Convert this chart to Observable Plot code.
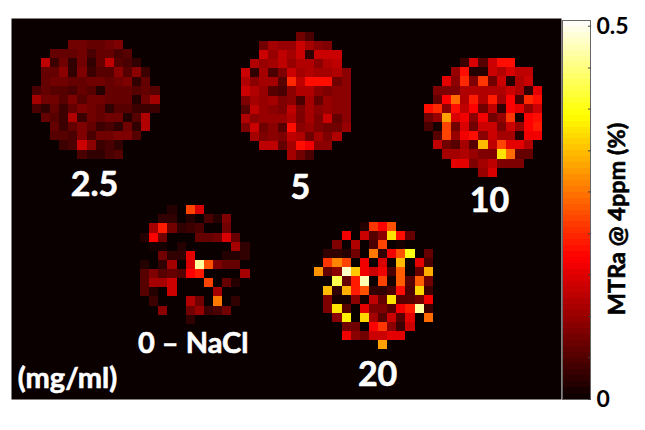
<!DOCTYPE html>
<html><head><meta charset="utf-8">
<script src="https://cdn.jsdelivr.net/npm/d3@7"></script>
<script src="https://cdn.jsdelivr.net/npm/@observablehq/plot@0.6"></script>
<style>html,body{margin:0;padding:0;background:#fff}#c{position:relative;width:645px;height:430px}#c svg{position:absolute;left:0;top:0;background:transparent}</style>
</head><body><div id="c"></div>
<script>
// MTRa per voxel, in hundredths of a percent (0 = outside phantom)
const conc2_5 = [
[0,0,0,0,8,8,7,7,8,9,0,0,0,0],
[0,0,7,7,7,8,5,7,7,5,6,0,0,0],
[0,14,4,8,3,8,3,7,14,6,5,3,0,0],
[0,7,7,10,3,9,4,6,6,10,6,10,4,0],
[0,7,8,8,7,7,8,8,7,8,9,3,7,0],
[5,7,6,6,5,7,6,2,7,7,7,6,7,6],
[12,8,8,6,9,6,8,8,7,7,7,2,8,12],
[5,3,7,4,7,9,8,7,3,6,6,4,4,4],
[0,7,6,4,13,4,8,7,8,8,2,6,13,0],
[0,0,7,4,7,9,7,4,5,3,8,3,13,0],
[0,0,6,6,5,9,5,8,8,9,9,6,0,0],
[0,0,0,4,5,15,10,4,5,3,0,0,0,0],
[0,0,0,0,0,5,3,3,5,6,0,0,0,0]];
const conc5 = [
[0,0,0,0,0,0,8,5,0,0,0,0],
[0,0,8,12,11,11,15,12,10,9,0,0],
[0,0,15,11,14,12,15,3,15,15,15,0],
[0,13,11,12,14,11,13,13,10,13,14,0],
[15,3,12,5,9,15,12,13,12,12,13,10],
[13,10,12,12,6,22,14,20,20,20,8,10],
[15,13,11,6,5,10,13,13,10,9,10,10],
[9,12,11,12,9,10,5,12,7,11,10,10],
[6,14,11,10,9,14,9,12,10,11,10,10],
[13,10,11,11,11,13,9,12,9,15,7,10],
[9,15,8,10,6,20,10,11,9,8,8,11],
[0,12,9,10,9,14,13,8,12,9,13,0],
[0,0,14,14,7,12,20,18,10,10,0,0],
[0,0,0,0,0,12,8,5,0,0,0,0]];
const conc10 = [
[0,0,0,0,4,16,6,15,20,20,0,0,0],
[0,0,0,11,20,2,2,15,13,16,14,14,0],
[0,0,17,10,22,9,23,8,15,2,13,15,0],
[0,9,9,9,13,13,13,13,13,15,13,3,17],
[0,7,19,27,13,21,13,21,12,19,5,22,20],
[20,22,10,20,14,19,8,14,3,19,17,11,15],
[8,11,31,16,18,10,18,8,11,23,1,19,20],
[5,1,24,8,16,8,15,15,9,15,11,19,21],
[0,6,24,11,18,20,10,15,12,12,2,18,18],
[0,14,8,6,12,6,33,14,24,17,17,13,0],
[0,0,12,12,13,11,9,9,36,27,7,7,0],
[0,0,0,17,17,9,12,14,9,9,9,0,0],
[0,0,0,0,0,0,11,16,0,0,0,0,0]];
const conc0NaCl = [
[0,0,0,2,0,24,16,0,0,0,0,0],
[0,0,3,3,0,2,0,5,2,9,0,0],
[0,12,21,8,3,4,5,0,0,8,0,0],
[2,19,8,0,0,0,7,7,8,16,7,0],
[0,1,1,0,2,0,0,0,0,0,12,3],
[0,0,8,3,3,17,0,0,0,2,2,3],
[2,0,3,12,0,16,46,25,9,7,7,0],
[6,9,6,7,6,19,21,0,0,0,0,12],
[6,12,12,15,0,0,0,24,0,7,2,0],
[6,2,0,15,0,0,0,0,12,0,0,0],
[0,4,0,0,0,13,8,0,28,0,3,0],
[0,0,10,0,0,8,11,4,5,8,0,0],
[0,0,0,0,0,3,0,0,0,0,0,0]];
const conc20 = [
[0,0,0,0,0,2,23,19,25,0,0,0,0],
[0,0,0,18,0,15,6,10,36,20,7,0,0],
[0,0,9,0,13,0,5,24,0,1,0,0,0],
[0,3,3,2,8,0,28,3,18,25,39,0,7],
[0,23,29,24,0,18,0,16,0,33,0,17,5],
[30,7,10,48,34,18,15,18,5,26,0,7,32],
[0,0,42,7,21,47,0,24,1,26,6,26,8],
[0,33,3,32,21,25,3,3,5,20,5,35,4],
[0,9,1,1,10,1,14,7,36,6,6,8,18],
[0,9,36,6,0,17,9,9,6,18,21,46,4],
[0,0,10,37,0,35,12,6,15,6,17,0,27],
[0,0,0,8,8,0,19,23,10,4,15,0,0],
[0,0,0,18,10,8,15,15,17,17,0,0,0],
[0,0,0,0,0,0,0,31,0,0,0,0,0]];
const sampleLabels = ["2.5","5","10","0 – NaCl","20"];
const unitLabel = "(mg/ml)";
const barTicks = [0,0.056,0.111,0.167,0.222,0.278,0.333,0.389,0.444,0.5];
const barTitle = "MTRa @ 4ppm (%)";

// Montage layout, in voxel units of the image
const layout = [[2.27,2.41],[25.2,1.5],[45.2,4.4],[14.13,20.5],[33.2,22.3]];
const labelAt = [[9.09,18.3],[31.65,18.6],[52.35,20.0],[19.9,35.6],[40.1,39.1]];
const blobs = [conc2_5,conc5,conc10,conc0NaCl,conc20];

const top_ = 0.5076;
const hot = {type:"linear",domain:[0,top_*3/8,top_*6/8,top_],range:["#0a0000","#ff0000","#ffff00","#ffffff"],clamp:true};

const cells = blobs.flatMap((m,b)=>m.flatMap((row,r)=>row.map((v,c)=>({
  x1:layout[b][0]+c,x2:layout[b][0]+c+1,y1:layout[b][1]+r,y2:layout[b][1]+r+1,v:v/100}))))
  .filter(d=>d.v>0);
const labels = sampleLabels.map((t,i)=>({t,x:labelAt[i][0],y:labelAt[i][1]}));

const font = "Lato, 'Open Sans', sans-serif";
const heavy = {fontWeight:"bold",fontFamily:font,strokeWidth:0.6};
const main = Plot.plot({
  width:645,height:430,marginLeft:11,marginRight:84,marginTop:18,marginBottom:31,
  style:{background:"transparent",fontFamily:font},
  x:{domain:[0,60.24],axis:null},
  y:{domain:[41.73,0],axis:null},
  color:hot,
  marks:[
    Plot.frame({fill:"#0a0000",stroke:"none"}),
    Plot.rect(cells,{x1:"x1",x2:"x2",y1:"y1",y2:"y2",fill:"v",shapeRendering:"crispEdges"}),
    Plot.text(labels,{x:"x",y:"y",text:"t",fill:"white",stroke:"white",fontSize:d=>d.t.length>3?29:34,...heavy}),
    Plot.text([unitLabel],{x:[6.13],y:[39.4],fill:"white",stroke:"white",fontSize:29,...heavy})
  ]
});

const steps = d3.range(64).map(i=>({y1:i/64*top_,y2:(i+1)/64*top_,v:(i+.5)/64*top_}));
const bar = Plot.plot({
  width:645,height:430,marginLeft:562,marginRight:55,marginTop:20,marginBottom:31,
  style:{background:"transparent",fontFamily:font},
  x:{domain:[0,1],axis:null},
  y:{domain:[0,top_],axis:null},
  color:hot,
  marks:[
    Plot.rect(steps,{x1:0,x2:1,y1:"y1",y2:"y2",fill:"v",shapeRendering:"crispEdges"}),
    Plot.frame({stroke:"#666",strokeWidth:1}),
    Plot.axisY({anchor:"right",ticks:barTicks,tickSize:-3,stroke:"#444",label:null,tickPadding:9,
      tickFormat:d=>d===0?"0":d===0.5?"0.5":"",fontSize:23,fontWeight:"bold",fill:"black",fontFamily:font}),
    Plot.text([barTitle],{frameAnchor:"middle",dx:41,dy:9,rotate:-90,fill:"black",stroke:"black",fontSize:23.5,...heavy})
  ]
});
document.getElementById("c").append(main,bar);
</script></body></html>
